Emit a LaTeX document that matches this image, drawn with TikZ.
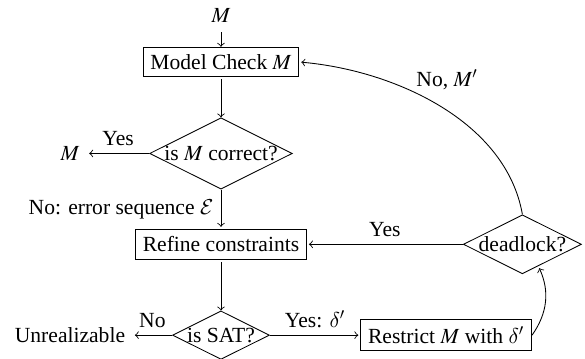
\documentclass[tikz,border=0pt]{standalone}
\usepackage{amsmath}
\usepackage{mathptmx}
\usepackage[no-math]{fontspec}
\setmainfont{Liberation Serif}
\DeclareMathAlphabet{\mathcal}{OMS}{cmsy}{m}{n}
\DeclareSymbolFont{cmletters}{OML}{cmm}{m}{it}
\DeclareMathSymbol{\delta}{\mathalpha}{cmletters}{"0E}
\usetikzlibrary{shapes.geometric}

\begin{document}
\begin{tikzpicture}[
    shorten >=1pt,
    draw=black,
    %
    block/.style={draw=black, rectangle},
    decision/.style={draw=black, diamond, aspect=2, inner sep=0pt},
    %
    pre/.style={->},
    post/.style={<-}
    ]
    \useasboundingbox (-3.60,-1.86) rectangle (5.93,3.98);

    \node          (mIn)      at (0,3.73)      {$M$};
    \node[block]   (model)    at (0,2.97)      {Model Check $M$} edge[post] (mIn);
    \node[decision](correct)  at (0,1.48)      {is $M$ correct?} edge[post] (model);
    \node          (mOut)     at (-2.46,1.48)  {$M$};
    \node[block]   (refine)   at (0,0)         {Refine constraints};
    \node[decision](sat)      at (0,-1.48)     {is SAT?} edge[post] (refine);
    \node          (unreal)   at (-2.46,-1.48) {Unrealizable};
    \node[block]   (restrict) at (3.67,-1.48)  {Restrict $M$ with $\delta'$};
    \node[decision](deadlock) at (4.91,0)      {deadlock?};
    %
    \draw[pre] (correct) -- node[above] {Yes} (mOut);
    \draw[pre] (correct) -- node[left] {No: error sequence $\mathcal{E}$} (refine);
    \draw[pre] (sat) -- node[above] {No} (unreal);
    \draw[pre] (sat) -- node[above] {Yes: $\delta'$} (restrict);
    \draw[pre] (restrict.east) to[bend right] (deadlock);
    \draw[pre] (deadlock) -- node[above] {Yes} (refine);
    \draw[pre] (deadlock.north) to[out=100, in=-5, looseness=0.9]
        node[pos=0.6, above right, inner sep=1pt] {No, $M'$} (model.east);

\end{tikzpicture}
\end{document}
